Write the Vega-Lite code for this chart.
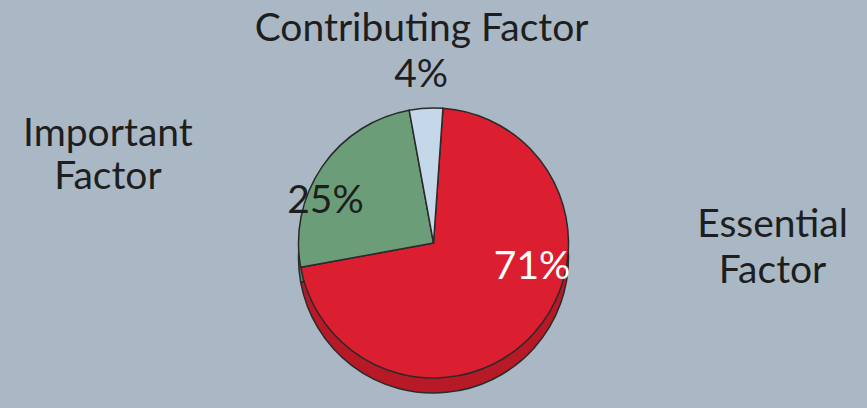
{
  "$schema": "https://vega.github.io/schema/vega-lite/v6.json",
  "width": 867,
  "height": 330,
  "autosize": "none",
  "padding": {"top": 78, "bottom": 0, "left": 0, "right": 0},
  "background": "#aab8c5",
  "config": {"view": {"stroke": null}, "text": {"font": "Lato", "fontSize": 39, "color": "#1e1e1e"}},
  "data": {
    "values": [
      {"category": "Essential Factor", "label": "Essential\nFactor", "pct": "71%", "value": 71, "rank": 1},
      {"category": "Important Factor", "label": "Important\nFactor", "pct": "25%", "value": 25, "rank": 2},
      {"category": "Contributing Factor", "label": "Contributing Factor", "pct": "4%", "value": 4, "rank": 3}
    ]
  },
  "encoding": {
    "theta": {"field": "value", "type": "quantitative", "stack": true, "scale": {"range": [0.07, 6.3532]}},
    "order": {"field": "rank", "type": "quantitative"}
  },
  "resolve": {"scale": {"color": "independent"}},
  "layer": [
    {
      "mark": {"type": "arc", "outerRadius": 135, "yOffset": 15, "stroke": "#2a2a2a", "strokeWidth": 1.5},
      "encoding": {
        "color": {"field": "category", "type": "nominal", "legend": null,
          "scale": {"domain": ["Essential Factor", "Important Factor", "Contributing Factor"], "range": ["#b71a26", "#557f60", "#9fb2c4"]}}
      }
    },
    {
      "mark": {"type": "arc", "outerRadius": 135, "stroke": "#2a2a2a", "strokeWidth": 1.5},
      "encoding": {
        "color": {"field": "category", "type": "nominal", "legend": null,
          "scale": {"domain": ["Essential Factor", "Important Factor", "Contributing Factor"], "range": ["#dc1f30", "#6b9e78", "#c5d8ea"]}}
      }
    },
    {
      "mark": {"type": "text", "radius": 214},
      "encoding": {"text": {"condition": {"test": "datum.category === 'Contributing Factor'", "field": "label"}, "value": ""}}
    },
    {
      "mark": {"type": "text", "radius": 168, "dx": -3},
      "encoding": {"text": {"condition": {"test": "datum.category === 'Contributing Factor'", "field": "pct"}, "value": ""}}
    },
    {
      "mark": {"type": "text", "radius": 200, "dx": -161, "dy": 5, "lineBreak": "\n", "lineHeight": 43},
      "encoding": {"text": {"condition": {"test": "datum.category === 'Important Factor'", "field": "label"}, "value": ""}}
    },
    {
      "mark": {"type": "text", "radius": 200, "dx": 190, "dy": -151, "lineBreak": "\n", "lineHeight": 46},
      "encoding": {"text": {"condition": {"test": "datum.category === 'Essential Factor'", "field": "label"}, "value": ""}}
    },
    {
      "mark": {"type": "text", "radius": 90, "dx": -34, "dy": 9},
      "encoding": {"text": {"condition": {"test": "datum.category === 'Important Factor'", "field": "pct"}, "value": ""}}
    },
    {
      "mark": {"type": "text", "radius": 100, "dx": 24, "dy": -43, "color": "#ffffff"},
      "encoding": {"text": {"condition": {"test": "datum.category === 'Essential Factor'", "field": "pct"}, "value": ""}}
    }
  ]
}
